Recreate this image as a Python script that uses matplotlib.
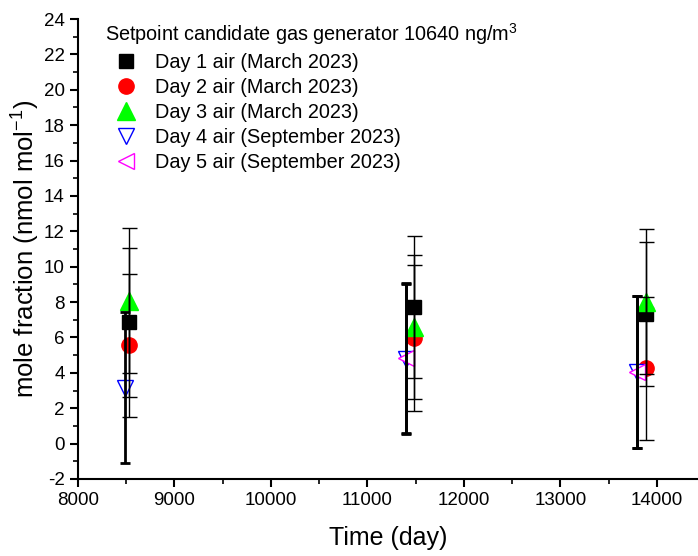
import numpy as np
import matplotlib
matplotlib.use("Agg")
import matplotlib.pyplot as plt
from matplotlib.ticker import MultipleLocator

plt.rcParams['font.family'] = ['Liberation Sans', 'DejaVu Sans']
plt.rcParams['axes.unicode_minus'] = False

# time positions (day)
x_day123 = [8530, 11480, 13890]
x_day45 = [8490, 11400, 13800]

day1 = [6.85, 7.74, 7.31]
day1_err = [4.2, 4.02, 4.08]
day2 = [5.56, 5.96, 4.25]
day2_err = [4.04, 4.13, 4.04]
day3 = [8.07, 6.6, 8.02]
day3_err = [4.1, 4.08, 4.09]
day4 = [3.15, 4.8, 4.05]
day4_err = [4.27, 4.24, 4.3]
day5 = [4.82, 4.07]
day5_err = [4.24, 4.3]

labels = ["Day 1 air (March 2023)", "Day 2 air (March 2023)", "Day 3 air (March 2023)",
          "Day 4 air (September 2023)", "Day 5 air (September 2023)"]

fig = plt.figure(figsize=(6.98, 5.56), dpi=100)
ax = fig.add_axes([0.1117, 0.1385, 0.888, 0.8273])

ax.plot(x_day123, day1, ls='none', marker='s', ms=9.5, color='black', label=labels[0], zorder=3)
ax.plot(x_day123, day2, ls='none', marker='o', ms=11, color='#ff0000', label=labels[1], zorder=3)
ax.plot(x_day123, day3, ls='none', marker='^', ms=13, color='#00ff00', label=labels[2], zorder=3)
ax.plot(x_day45, day4, ls='none', marker='v', ms=12, mfc='white', mec='#0000ff', mew=1,
        label=labels[3], zorder=3)
ax.plot(x_day45[1:], day5, ls='none', marker='<', ms=12, mfc='white', mec='#ff00ff', mew=1,
        label=labels[4], zorder=3)

# error bars (drawn over markers)
for y, e in [(day1, day1_err), (day2, day2_err), (day3, day3_err)]:
    ax.errorbar(x_day123, y, yerr=e, fmt='none', ecolor='black', elinewidth=1,
                capsize=5.4, capthick=1, zorder=4)
ax.errorbar(x_day45, day4, yerr=day4_err, fmt='none', ecolor='black', elinewidth=2,
            capsize=3.8, capthick=2, zorder=4)
ax.errorbar(x_day45[1:], day5, yerr=day5_err, fmt='none', ecolor='black', elinewidth=2,
            capsize=3.8, capthick=2, zorder=4)

ax.set_xlim(8000, 14425)
ax.set_ylim(-2, 24)
ax.xaxis.set_major_locator(MultipleLocator(1000))
ax.xaxis.set_minor_locator(MultipleLocator(500))
ax.yaxis.set_major_locator(MultipleLocator(2))
ax.yaxis.set_minor_locator(MultipleLocator(1))
ax.spines['top'].set_visible(False)
ax.spines['right'].set_visible(False)
for s in ['left', 'bottom']:
    ax.spines[s].set_linewidth(1.5)
ax.tick_params(which='major', direction='out', length=6, width=1.5, labelsize=13.5)
ax.tick_params(which='minor', direction='out', length=3.5, width=1.2)

ax.set_xlabel("Time (day)", fontsize=18, labelpad=12)
ax.set_ylabel("mole fraction (nmol mol$^{\\mathregular{-1}}$)", fontsize=18.5, labelpad=2)

leg = ax.legend(loc='upper left', bbox_to_anchor=(0.030, 1.013), frameon=False, fontsize=14.3,
                title="Setpoint candidate gas generator 10640 ng/m$^{\\mathregular{3}}$",
                title_fontsize=14.3, handletextpad=0.35, labelspacing=0.3, handlelength=2.2,
                borderaxespad=0)
leg._legend_box.align = "left"

fig.savefig("out.png", dpi=100)
